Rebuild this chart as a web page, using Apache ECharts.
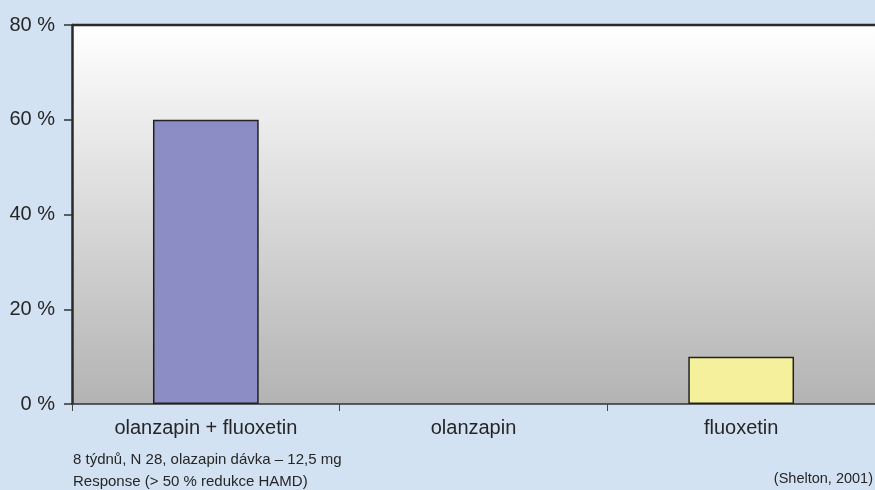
<!DOCTYPE html>
<html>
<head>
<meta charset="utf-8">
<script src="https://cdn.jsdelivr.net/npm/echarts@6/dist/echarts.min.js"></script>
<style>
  html, body { margin: 0; padding: 0; background: #d3e2f2; }
  #chart { width: 875px; height: 490px; }
</style>
</head>
<body>
<div id="chart"></div>
<script>
// Response rates by treatment arm (%)
const categories = ['olanzapin + fluoxetin', 'olanzapin', 'fluoxetin'];
const responseRates = [60, 0, 10];
const barColors = ['#8b8dc4', '#c8c8c8', '#f4f09b'];
const yTicks = [0, 20, 40, 60, 80];
const noteLines = ['8 týdnů, N 28, olazapin dávka – 12,5 mg', 'Response (> 50 % redukce HAMD)'];
const sourceNote = '(Shelton, 2001)';

const FONT = '"Liberation Sans", Arial, sans-serif';
const TEXT = '#262626';
const chart = echarts.init(document.getElementById('chart'));

chart.setOption({
  backgroundColor: '#d3e2f2',
  animation: false,
  grid: {
    left: 72, top: 25, right: -1, bottom: 86,
    show: true,
    borderWidth: 0,
    backgroundColor: new echarts.graphic.LinearGradient(0, 0, 0, 1, [
      { offset: 0, color: '#ffffff' },
      { offset: 1, color: '#b3b3b3' }
    ])
  },
  xAxis: {
    type: 'category',
    data: categories,
    axisLine: { show: true, lineStyle: { color: '#333', width: 1.5 } },
    axisTick: { show: true, length: 7, lineStyle: { color: '#444', width: 1 } },
    axisLabel: { color: TEXT, fontSize: 20, fontFamily: FONT, margin: 14 }
  },
  yAxis: {
    type: 'value',
    min: yTicks[0], max: yTicks[yTicks.length - 1], interval: 20,
    axisLine: { show: true, lineStyle: { color: '#2a2a2a', width: 2.5 } },
    axisTick: { show: true, length: 8, lineStyle: { color: '#333', width: 1.5 } },
    splitLine: { show: false },
    axisLabel: {
      color: TEXT, fontSize: 20, fontFamily: FONT, margin: 17,
      formatter: v => v + ' %'
    }
  },
  series: [{
    type: 'bar',
    data: responseRates.map((v, i) => ({
      value: v,
      itemStyle: {
        color: barColors[i],
        borderColor: '#222',
        borderWidth: v > 0 ? 1.5 : 0,
        opacity: v > 0 ? 1 : 0
      }
    })),
    barWidth: '39.5%',
    silent: true
  }],
  graphic: [
    // top frame line of the plot area
    { type: 'line', shape: { x1: 72, y1: 25, x2: 875, y2: 25 },
      style: { stroke: '#2a2a2a', lineWidth: 2.5 }, z: 10 },
    { type: 'text', left: 73, top: 452,
      style: { text: noteLines[0], fontSize: 15, fontFamily: FONT, fill: TEXT } },
    { type: 'text', left: 73, top: 474,
      style: { text: noteLines[1], fontSize: 15, fontFamily: FONT, fill: TEXT } },
    { type: 'text', right: 2, top: 471,
      style: { text: sourceNote, fontSize: 14.5, fontFamily: FONT, fill: TEXT } }
  ]
});
</script>
</body>
</html>
